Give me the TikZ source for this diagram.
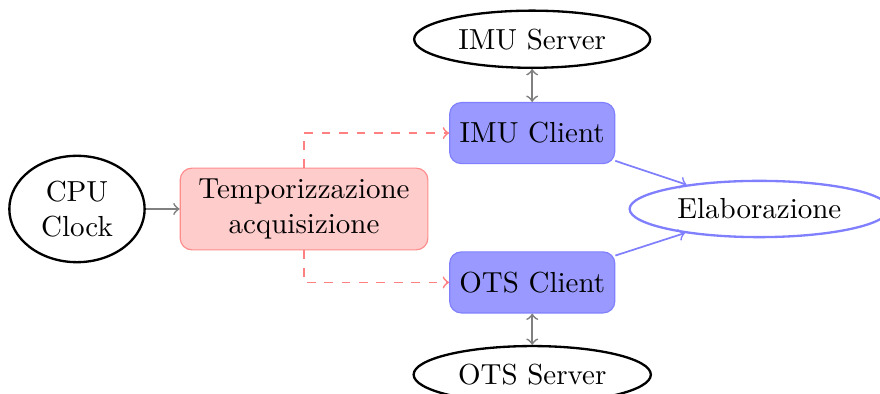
\documentclass[tikz,border=0pt]{standalone}
\usepackage{tikz}
\usetikzlibrary{positioning}
\usetikzlibrary{shapes.geometric}

\begin{document}
\begin{tikzpicture}[
    srv/.style={draw, thick, ellipse},
    client/.style={draw=blue!50, fill=blue!40, rounded corners, minimum width=2cm, minimum height=0.74cm},
    timer/.style={draw=red!45, fill=red!20, rounded corners, align=center, inner xsep=6.3pt, minimum height=0.99cm},
    elab/.style={draw=blue!50, thick, ellipse},
    link/.style={gray, semithick},
    trig/.style={red!50, semithick, dashed, ->},
    feed/.style={blue!50, semithick, ->}
    ]
    \path[use as bounding box, clip] (0,0) rectangle (10.665,4.775);

    \node [srv, align=center, minimum width=1.64cm] (cpu) at (0.933,2.242) {CPU\\Clock};
    \node [timer, right=0.41cm of cpu] (temp) {Temporizzazione\\acquisizione};

    \node [client, right=0.25cm of temp, yshift=0.92cm] (imuc) {IMU Client};
    \node [client, right=0.25cm of temp, yshift=-0.89cm] (otsc) {OTS Client};

    \node [srv, above=0.4cm of imuc] (imus) {IMU Server};
    \node [srv, below=0.38cm of otsc] (otss) {OTS Server};

    \coordinate (mid) at (imuc.east |- temp.east);
    \node [elab, right=0.16cm of mid] (elab) {Elaborazione};

    \draw [link, ->] (cpu) -- (temp);
    \draw [trig] (temp.north) |- (imuc);
    \draw [trig] (temp.south) |- (otsc);
    \draw [link, <->] (imus) -- (imuc);
    \draw [link, <->] (otsc) -- (otss);
    \draw [feed] (imuc) -- (elab);
    \draw [feed] (otsc) -- (elab);

\end{tikzpicture}
\end{document}
